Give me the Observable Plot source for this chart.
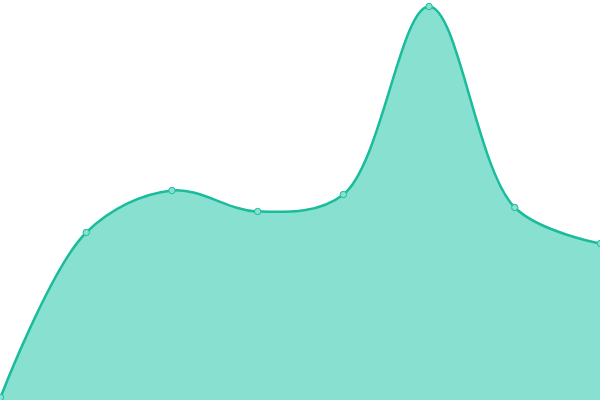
<!DOCTYPE html>
<html>
<head>
<meta charset="utf-8">
<script src="https://cdn.jsdelivr.net/npm/d3@7"></script>
<script src="https://cdn.jsdelivr.net/npm/@observablehq/plot@0.6"></script>
<style>
  html, body { margin: 0; padding: 0; background: #fff; }
  #chart svg { display: block; }
</style>
</head>
<body>
<div id="chart"></div>
<script>
const xs = [0, 1, 2, 3, 4, 5, 6, 7];
const values = [3, 168, 210, 189, 206, 394, 193, 157];
const data = xs.map((x, i) => ({x, y: values[i]}));

const lineColor = "#1abc9c";
const fillColor = "#88e0d0";
const curve = "catmull-rom";

const chart = Plot.plot({
  width: 600,
  height: 400,
  margin: 0,
  x: {domain: [0, 7], range: [0, 600], axis: null},
  y: {domain: [0, 400], range: [400, 0], axis: null},
  marks: [
    Plot.areaY(data, {x: "x", y: "y", curve, fill: fillColor}),
    Plot.lineY(data, {x: "x", y: "y", curve, stroke: lineColor, strokeWidth: 2.5}),
    Plot.dot(data, {x: "x", y: "y", r: 3.2, fill: fillColor, stroke: lineColor, strokeWidth: 1})
  ]
});
document.getElementById("chart").appendChild(chart);
</script>
</body>
</html>
